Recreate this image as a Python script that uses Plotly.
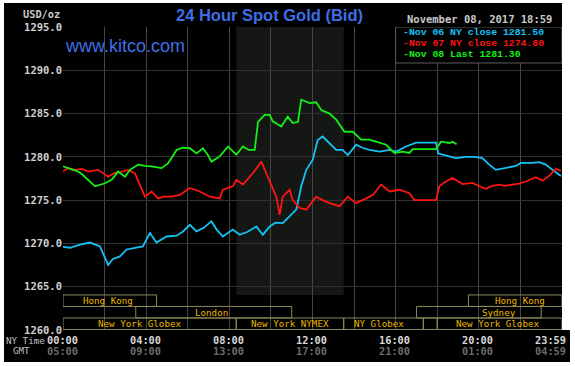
import plotly.graph_objects as go

# ---------------- data ----------------
Y_TICKS = [1260, 1265, 1270, 1275, 1280, 1285, 1290, 1295]
X_TICK_HOURS = [0, 4, 8, 12, 16, 20, 23.983]
NY_TIME_LABELS = ["00:00", "04:00", "08:00", "12:00", "16:00", "20:00", "23:59"]
GMT_LABELS = ["05:00", "09:00", "13:00", "17:00", "21:00", "01:00", "04:59"]

blue_h = [0.0, 0.34, 0.82, 1.30, 1.78, 2.05, 2.17, 2.40, 2.74, 3.06, 3.46, 3.84, 4.18, 4.50,
          4.98, 5.46, 5.76, 6.10, 6.42, 6.77, 7.14, 7.39, 7.69, 8.17, 8.50, 8.88, 9.30, 9.61,
          9.94, 10.22, 10.57, 10.90, 11.22, 11.46, 11.70, 12.01, 12.25, 12.49, 12.82, 13.14,
          13.45, 13.70, 14.10, 14.40, 14.74, 15.22, 15.70, 16.02, 16.50, 16.98, 17.94, 18.05,
          18.25, 18.90, 19.38, 19.82, 20.17, 20.50, 20.82, 21.30, 21.78, 22.02, 22.58, 22.90,
          23.22, 23.54, 23.95]
blue_p = [1269.6, 1269.5, 1269.85, 1270.1, 1269.65, 1268.3, 1267.5, 1268.2, 1268.5, 1269.3,
          1269.5, 1269.65, 1271.2, 1270.1, 1270.8, 1270.9, 1271.35, 1272.15, 1271.4, 1271.8,
          1272.55, 1271.6, 1270.8, 1271.6, 1271.0, 1271.35, 1271.95, 1271.0, 1271.95, 1272.4,
          1272.35, 1273.1, 1273.9, 1276.6, 1278.5, 1279.65, 1281.95, 1282.35, 1281.6, 1280.8,
          1280.8, 1280.2, 1281.4, 1281.05, 1280.8, 1280.6, 1280.8, 1280.6, 1281.2, 1281.65,
          1281.65, 1280.4, 1280.25, 1279.85, 1280.0, 1280.0, 1279.85, 1279.1, 1278.5, 1278.7,
          1278.95, 1279.3, 1279.3, 1279.4, 1279.1, 1278.5, 1277.8]

red_h = [0.0, 0.25, 0.58, 0.90, 1.21, 1.69, 2.17, 2.50, 2.82, 3.13, 3.46, 3.78, 3.94, 4.26,
         4.57, 4.85, 5.22, 5.62, 6.10, 6.58, 7.06, 7.54, 7.69, 8.17, 8.34, 8.65, 9.13, 9.54,
         9.85, 10.09, 10.26, 10.42, 10.57, 10.90, 11.05, 11.38, 11.70, 12.18, 12.48, 12.82,
         13.30, 13.70, 14.10, 14.58, 14.90, 15.30, 15.70, 16.18, 16.66, 16.90, 17.94, 18.10,
         18.38, 18.73, 19.22, 19.70, 20.02, 20.34, 20.64, 20.98, 21.26, 21.61, 21.94, 22.26,
         22.74, 23.06, 23.38, 23.70, 23.95]
red_p = [1278.3, 1278.7, 1278.5, 1278.6, 1278.3, 1278.5, 1277.7, 1278.15, 1278.3, 1278.5,
         1278.1, 1276.2, 1275.4, 1276.0, 1275.2, 1275.4, 1275.4, 1275.6, 1276.4, 1276.0,
         1275.4, 1275.2, 1276.2, 1276.6, 1277.35, 1276.8, 1278.1, 1279.45, 1277.7, 1276.2,
         1275.4, 1273.3, 1275.4, 1276.2, 1275.0, 1274.1, 1273.9, 1275.4, 1275.0, 1274.65,
         1274.3, 1275.4, 1274.65, 1275.2, 1275.6, 1276.8, 1276.0, 1276.2, 1275.8, 1275.0,
         1275.0, 1276.6, 1277.1, 1277.55, 1276.85, 1277.0, 1276.6, 1276.3, 1276.65, 1276.8,
         1276.65, 1276.8, 1276.9, 1277.15, 1277.65, 1277.25, 1277.8, 1278.6, 1278.4]

green_h = [0.0, 0.24, 0.73, 0.96, 1.21, 1.54, 2.02, 2.34, 2.65, 2.98, 3.22, 3.61, 3.94, 4.26,
           4.74, 5.05, 5.23, 5.46, 5.76, 6.10, 6.42, 6.73, 6.96, 7.14, 7.54, 7.94, 8.34, 8.65,
           8.93, 9.22, 9.38, 9.70, 9.94, 10.09, 10.50, 10.81, 11.05, 11.30, 11.46, 11.86, 12.18,
           12.42, 12.82, 13.14, 13.54, 13.94, 14.34, 14.74, 15.06, 15.54, 15.94, 16.34, 16.66,
           16.82, 17.94, 18.18, 18.58, 18.74, 18.93]
green_p = [1278.9, 1278.7, 1278.3, 1277.9, 1277.35, 1276.6, 1276.95, 1277.35, 1278.3, 1277.7,
           1278.5, 1279.1, 1278.95, 1278.9, 1278.7, 1279.25, 1279.9, 1280.8, 1281.05, 1281.0,
           1280.4, 1281.0, 1280.25, 1279.45, 1280.05, 1281.2, 1280.25, 1281.2, 1280.8, 1280.8,
           1284.05, 1284.85, 1284.85, 1284.1, 1283.5, 1284.65, 1283.9, 1284.05, 1286.6, 1286.2,
           1286.3, 1285.4, 1285.0, 1284.3, 1282.9, 1282.9, 1282.0, 1282.0, 1281.75, 1281.4,
           1280.45, 1280.6, 1280.45, 1280.9, 1280.9, 1281.75, 1281.6, 1281.75, 1281.45]

series_names = ["Nov 06 NY close", "Nov 07 NY close", "Nov 08 Last"]
series_values = [1281.50, 1274.80, 1281.30]

# trading sessions: name, row (0 = top), start hour, end hour, label hour
session_names = ["Hong Kong", "Hong Kong", "London", "Sydney", "New York Globex",
                 "New York NYMEX", "NY Globex", "", "New York Globex"]
session_rows = [0, 0, 1, 1, 2, 2, 2, 2, 2]
session_start = [0.0, 19.5, 3.5, 17.0, 0.0, 8.333, 13.5, 17.33, 18.0]
session_end = [4.5, 24.0, 11.0, 23.0, 8.333, 13.5, 17.33, 18.0, 24.0]
session_label_at = [2.15, 22.0, 7.15, 20.95, 3.68, 10.9, 15.2, 17.66, 20.9]

NYMEX_OPEN, NYMEX_CLOSE = 8.333, 13.5

# ---------------- styles ----------------
BLUE, RED, GREEN = "#14c3f5", "#ff1414", "#14f014"
MONO = "DejaVu Sans Mono"
LEG_FONT = "Liberation Mono"
TITLE_BLUE = "#3f6fe6"
ROW_TOP, ROW_H = 1264.05, 1.33

fig = go.Figure()
for h, p, c in [(blue_h, blue_p, BLUE), (red_h, red_p, RED), (green_h, green_p, GREEN)]:
    fig.add_trace(go.Scatter(x=h, y=p, mode="lines", line=dict(color=c, width=1.8),
                             hoverinfo="skip", showlegend=False))

shapes = []
# black chart background (with thin white border around it)
shapes.append(dict(type="rect", xref="paper", yref="paper", x0=-0.1182, x1=1.0,
                   y0=-0.1056, y1=1.0792, fillcolor="#000000", line=dict(width=0),
                   layer="below"))
# black strip under the time labels, reaching a little further right
shapes.append(dict(type="rect", xref="paper", yref="paper", x0=0.9, x1=1.016,
                   y0=-0.1056, y1=0.0, fillcolor="#000000", line=dict(width=0),
                   layer="below"))
# NYMEX shaded hours
shapes.append(dict(type="rect", xref="x", yref="y", x0=NYMEX_OPEN, x1=NYMEX_CLOSE,
                   y0=ROW_TOP, y1=1295, fillcolor="#151715", line=dict(width=0),
                   layer="below"))
annotations = []
for name, row, s, e, lab in zip(session_names, session_rows, session_start,
                                session_end, session_label_at):
    y1 = ROW_TOP - row * ROW_H
    y0 = y1 - ROW_H
    shapes.append(dict(type="rect", xref="x", yref="y", x0=s, x1=e, y0=y0, y1=y1,
                       fillcolor="rgba(0,0,0,0)", line=dict(color="#8c8a5c", width=1),
                       layer="above"))
    if name:
        annotations.append(dict(x=lab, y=(y0 + y1) / 2, xref="x", yref="y", text=name,
                                showarrow=False, font=dict(family=MONO, size=9.2, color="#e8b800"),
                                xanchor="center", yanchor="middle", borderpad=0))

# legend box
shapes.append(dict(type="rect", xref="x", yref="y", x0=16, x1=24, y0=1290.84, y1=1295,
                   fillcolor="#000000", line=dict(color="#5c5c5c", width=1), layer="above"))
leg_y = [1294.39, 1293.11, 1291.82]
for nm, val, c, yy in zip(series_names, series_values, [BLUE, RED, GREEN], leg_y):
    annotations.append(dict(x=16.3, y=yy, xref="x", yref="y",
                            text=f"<b>-{nm} {val:.2f}</b>", showarrow=False,
                            font=dict(family=LEG_FONT, size=9.8, color=c),
                            xanchor="left", yanchor="middle", borderpad=0))

# x tick labels (NY time and GMT rows)
for i, (hx, ny, gmt) in enumerate(zip(X_TICK_HOURS, NY_TIME_LABELS, GMT_LABELS)):
    shift = -11 if i == len(X_TICK_HOURS) - 1 else -1
    annotations.append(dict(x=hx, y=-0.0314, xref="x", yref="paper", text=f"<b>{ny}</b>",
                            showarrow=False, xshift=shift, borderpad=0,
                            font=dict(family=MONO, size=10.3, color="#d8d8d8"),
                            xanchor="center", yanchor="middle"))
    annotations.append(dict(x=hx, y=-0.0693, xref="x", yref="paper", text=f"<b>{gmt}</b>",
                            showarrow=False, xshift=shift, borderpad=0,
                            font=dict(family=MONO, size=10.3, color="#6c6c6c"),
                            xanchor="center", yanchor="middle"))
annotations.append(dict(x=-0.0745, y=-0.0363, xref="paper", yref="paper", text="NY Time",
                        showarrow=False, font=dict(family=MONO, size=9.2, color="#c4c4c4"),
                        xanchor="center", yanchor="middle", borderpad=0))
annotations.append(dict(x=-0.0822, y=-0.0693, xref="paper", yref="paper", text="GMT",
                        showarrow=False, font=dict(family=MONO, size=9.2, color="#c4c4c4"),
                        xanchor="center", yanchor="middle", borderpad=0))

# header texts
annotations.append(dict(x=-0.044, y=1.0429, xref="paper", yref="paper", text="<b>USD/oz</b>",
                        showarrow=False, font=dict(family=MONO, size=10.3, color="#c8c8c8"),
                        xanchor="center", yanchor="middle", borderpad=0))
annotations.append(dict(x=0.413, y=1.0380, xref="paper", yref="paper",
                        text="<b>24 Hour Spot Gold (Bid)</b>", showarrow=False,
                        font=dict(family="Liberation Sans", size=16.5, color=TITLE_BLUE),
                        xanchor="center", yanchor="middle", borderpad=0))
annotations.append(dict(x=0.834, y=1.0250, xref="paper", yref="paper",
                        text="<b>November 08, 2017 18:59</b>", showarrow=False,
                        font=dict(family=MONO, size=10.5, color="#c8c8c8"),
                        xanchor="center", yanchor="middle", borderpad=0))
annotations.append(dict(x=0.124, y=0.937, xref="paper", yref="paper",
                        text="www.kitco.com", showarrow=False,
                        font=dict(family="Liberation Sans", size=18, color=TITLE_BLUE),
                        xanchor="center", yanchor="middle", borderpad=0))

fig.update_layout(
    width=575, height=366,
    margin=dict(l=63, r=13, t=27, b=36, pad=0),
    paper_bgcolor="#ffffff", plot_bgcolor="#000000",
    showlegend=False,
    shapes=shapes, annotations=annotations,
    xaxis=dict(range=[0, 24], tick0=0, dtick=2, showgrid=True, gridcolor="#464646",
               gridwidth=1, showticklabels=False, zeroline=False, showline=False,
               ticks="", fixedrange=True),
    yaxis=dict(range=[1260, 1295], tickvals=Y_TICKS, ticktext=[f"<b>{v:.1f}</b>" for v in Y_TICKS],
               showgrid=True, gridcolor="#303030", gridwidth=1, zeroline=False,
               showline=False, ticks="", ticklen=0,
               tickfont=dict(family=MONO, size=10.5, color="#d0d0d0"), fixedrange=True),
)

fig.write_html("out.html", post_script="document.body.style.margin='0';",
               config={"displayModeBar": False})
